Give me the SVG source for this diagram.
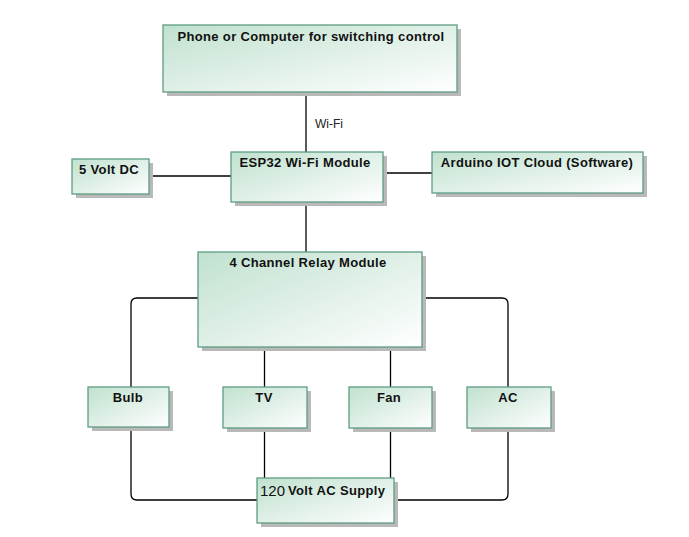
<svg xmlns="http://www.w3.org/2000/svg" width="689" height="537" viewBox="0 0 689 537">
<defs>
<linearGradient id="g" x1="0" y1="0" x2="1" y2="1">
<stop offset="0" stop-color="#c0e1cf"/>
<stop offset="1" stop-color="#ffffff"/>
</linearGradient>
<style>
.sh{fill:#b9b9b9}
.bx{fill:url(#g);stroke:#5e9c82;stroke-width:1.3}
.t{font-family:"Liberation Sans",Arial,sans-serif;font-weight:bold;font-size:13px;letter-spacing:0.35px;fill:#111;text-anchor:middle}
.c{fill:none;stroke:#000;stroke-width:1.3}
.lbl{font-family:"Liberation Sans",Arial,sans-serif;font-size:12px;fill:#222}
</style>
</defs>
<rect width="689" height="537" fill="#fff"/>
<g id="connectors">
<line class="c" x1="306" y1="92" x2="306" y2="152"/>
<text class="lbl" x="315" y="128">Wi-Fi</text>
<line class="c" x1="149" y1="176" x2="231" y2="176"/>
<line class="c" x1="383" y1="173" x2="432" y2="173"/>
<line class="c" x1="306" y1="202" x2="306" y2="252"/>
<path class="c" d="M198 298 H137 Q131 298 131 304 V387"/>
<path class="c" d="M422 298 H502 Q508 298 508 304 V387"/>
<line class="c" x1="264.5" y1="347" x2="264.5" y2="387"/>
<line class="c" x1="390.5" y1="347" x2="390.5" y2="387"/>
<path class="c" d="M131 427 V494 Q131 500 137 500 H257"/>
<path class="c" d="M508 428 V494 Q508 500 502 500 H394"/>
<line class="c" x1="264.5" y1="428" x2="264.5" y2="478"/>
<line class="c" x1="390.5" y1="428" x2="390.5" y2="478"/>
</g>
<g id="phone">
<rect class="sh" x="167" y="29" width="294" height="67"/>
<rect class="bx" x="163" y="25" width="294" height="67"/>
<text class="t" x="311" y="41">Phone or Computer for switching control</text>
</g>
<g id="dc5">
<rect class="sh" x="76" y="163" width="77" height="35"/>
<rect class="bx" x="72" y="159" width="77" height="35"/>
<text class="t" x="109" y="174">5 Volt DC</text>
</g>
<g id="esp32">
<rect class="sh" x="235" y="156" width="152" height="50"/>
<rect class="bx" x="231" y="152" width="152" height="50"/>
<text class="t" x="305" y="167">ESP32 Wi-Fi Module</text>
</g>
<g id="arduino">
<rect class="sh" x="436" y="156" width="211" height="41"/>
<rect class="bx" x="432" y="152" width="211" height="41"/>
<text class="t" x="537" y="167">Arduino IOT Cloud (Software)</text>
</g>
<g id="relay">
<rect class="sh" x="202" y="256" width="224" height="95"/>
<rect class="bx" x="198" y="252" width="224" height="95"/>
<text class="t" x="308" y="267">4 Channel Relay Module</text>
</g>
<g id="bulb">
<rect class="sh" x="92" y="391" width="81" height="40"/>
<rect class="bx" x="88" y="387" width="81" height="40"/>
<text class="t" x="128" y="402">Bulb</text>
</g>
<g id="tv">
<rect class="sh" x="227" y="391" width="84" height="41"/>
<rect class="bx" x="223" y="387" width="84" height="41"/>
<text class="t" x="264" y="402">TV</text>
</g>
<g id="fan">
<rect class="sh" x="353" y="391" width="83" height="41"/>
<rect class="bx" x="349" y="387" width="83" height="41"/>
<text class="t" x="389" y="402">Fan</text>
</g>
<g id="ac">
<rect class="sh" x="471" y="391" width="84" height="41"/>
<rect class="bx" x="467" y="387" width="84" height="41"/>
<text class="t" x="508" y="402">AC</text>
</g>
<g id="supply">
<rect class="sh" x="261" y="482" width="137" height="45"/>
<rect class="bx" x="257" y="478" width="137" height="45"/>
<text x="260" y="496" style="font-family:'Liberation Sans',Arial,sans-serif;font-size:15px;fill:#111">120</text>
<text class="t" x="288" y="495" style="text-anchor:start">Volt AC Supply</text>
</g>
</svg>
